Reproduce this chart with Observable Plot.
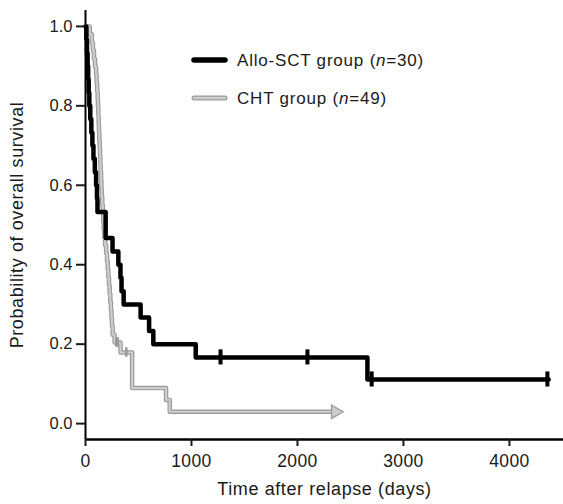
<!DOCTYPE html>
<html><head><meta charset="utf-8">
<script src="https://cdn.jsdelivr.net/npm/d3@7"></script>
<script src="https://cdn.jsdelivr.net/npm/@observablehq/plot@0.6"></script>
<style>body{margin:0;background:#fff} svg{display:block}</style>
</head><body><div id="chart"></div>
<script>
// Allo-SCT group (n=30): step start times (days) and survival levels
const alloTime = [0, 8, 14, 20, 25, 30, 36, 45, 55, 65, 75, 88, 100, 108, 113, 190, 255, 310, 330, 340, 360, 520, 600, 640, 1040, 2660, 4370];
const alloSurv = [1.0, 0.967, 0.933, 0.9, 0.867, 0.833, 0.8, 0.767, 0.733, 0.7, 0.667, 0.633, 0.6, 0.567, 0.533, 0.467, 0.433, 0.4, 0.367, 0.333, 0.3, 0.267, 0.233, 0.2, 0.1667, 0.1111, 0.1111];
const alloCensorTime = [1274, 2094, 2700, 4358];
const alloCensorSurv = [0.1667, 0.1667, 0.1111, 0.1111];

// CHT group (n=49)
const chtTime = [0, 40, 60, 70, 80, 90, 100, 105, 110, 115, 118, 121, 124, 127, 130, 134, 137, 140, 143, 147, 150, 154, 158, 163, 168, 172, 178, 185, 195, 203, 210, 216, 222, 228, 234, 240, 245, 250, 256, 275, 330, 440, 760, 795, 2358];
const chtSurv = [1.0, 0.980, 0.959, 0.939, 0.918, 0.898, 0.878, 0.857, 0.837, 0.816, 0.796, 0.776, 0.755, 0.735, 0.714, 0.694, 0.673, 0.653, 0.633, 0.612, 0.592, 0.571, 0.551, 0.531, 0.510, 0.490, 0.469, 0.449, 0.429, 0.408, 0.388, 0.367, 0.347, 0.327, 0.306, 0.286, 0.265, 0.245, 0.224, 0.204, 0.179, 0.0895, 0.0597, 0.0298, 0.0298];
const chtCensorTime = [290, 305, 385];
const chtCensorSurv = [0.204, 0.204, 0.179];
const chtEndTime = [2358];
const chtEndSurv = [0.0298];

const seriesNames = ["Allo-SCT group", "CHT group"];
const seriesN = [30, 49];
const xTicks = [0, 1000, 2000, 3000, 4000];
const yTicks = [0, 0.2, 0.4, 0.6, 0.8, 1.0];

const allo = alloTime.map((t, i) => ({t, s: alloSurv[i]}));
const alloC = alloCensorTime.map((t, i) => ({t, s: alloCensorSurv[i]}));
const cht = chtTime.map((t, i) => ({t, s: chtSurv[i]}));
const chtC = chtCensorTime.map((t, i) => ({t, s: chtCensorSurv[i]}));
const chtE = chtEndTime.map((t, i) => ({t, s: chtEndSurv[i]}));

const font = "'Liberation Sans', Arial, Helvetica, sans-serif";
const ink = "#1a1a1a";
const grayDark = "#9a9a9a", grayLight = "#cdcdcd";

const chart = Plot.plot({
  width: 563, height: 504,
  marginLeft: 85, marginRight: 0, marginTop: 10, marginBottom: 65,
  style: {fontFamily: font, fontSize: "17px", color: ink, background: "#fff"},
  x: {domain: [0, 4510]},
  y: {domain: [-0.04, 1.04]},
  marks: [
    Plot.ruleX([0], {stroke: "#000", strokeWidth: 2}),
    Plot.ruleY([-0.04], {stroke: "#000", strokeWidth: 2.5}),
    Plot.axisY({ticks: yTicks, tickFormat: ".1f", tickSize: 9, tickPadding: 4, label: null, strokeWidth: 2, fontSize: 16.5}),
    Plot.axisX({ticks: xTicks, tickFormat: d => String(d), tickSize: 7, tickPadding: 8, label: null, strokeWidth: 2, fontSize: 17.5, className: "xax"}),
    // CHT line (outlined gray)
    Plot.line(cht, {x: "t", y: "s", curve: "step-after", stroke: grayDark, strokeWidth: 4.5}),
    Plot.line(cht, {x: "t", y: "s", curve: "step-after", stroke: grayLight, strokeWidth: 2.2}),
    Plot.ruleX(chtC, {x: "t", y1: d => d.s - 0.012, y2: d => d.s + 0.012, stroke: grayDark, strokeWidth: 2.5}),
    Plot.dot(chtE, {x: "t", y: "s", symbol: "triangle", rotate: 90, r: 5, fill: grayLight, stroke: grayDark, strokeWidth: 1.3}),
    // Allo-SCT line
    Plot.line(allo, {x: "t", y: "s", curve: "step-after", stroke: "#000", strokeWidth: 4.5}),
    Plot.ruleX(alloC, {x: "t", y1: d => d.s - 0.019, y2: d => d.s + 0.019, stroke: "#000", strokeWidth: 4}),
    // axis titles
    Plot.text(["Time after relapse (days)"], {frameAnchor: "bottom", dy: 55, fontSize: 18, fill: ink, textAnchor: "middle", className: "ttl"}),
    Plot.text(["Probability of overall survival"], {frameAnchor: "left", dx: -68, rotate: -90, fontSize: 18, fill: ink, textAnchor: "middle", lineAnchor: "middle", className: "ttl"})
  ]
});

const svg = d3.select(chart);
svg.selectAll(".ttl text").attr("letter-spacing", "0.6px");
svg.selectAll(".xax text").attr("letter-spacing", "0.4px");

// legend inside the plot area
const lg = svg.append("g").attr("font-family", font).attr("font-size", 17)
  .attr("fill", ink).attr("text-anchor", "start").attr("letter-spacing", "0.8px");
const legendStyles = [
  [{stroke: "#000", w: 5.5}],
  [{stroke: grayDark, w: 5}, {stroke: grayLight, w: 2.6}]
];
seriesNames.forEach((name, i) => {
  const y = 60 + i * 38;
  legendStyles[i].forEach(st => {
    lg.append("line").attr("x1", 194).attr("x2", 225).attr("y1", y).attr("y2", y)
      .attr("stroke", st.stroke).attr("stroke-width", st.w).attr("stroke-linecap", "round");
  });
  const t = lg.append("text").attr("x", 237).attr("y", y).attr("dy", "0.36em");
  t.append("tspan").text(name + " (");
  t.append("tspan").attr("font-style", "italic").text("n");
  t.append("tspan").text("=" + seriesN[i] + ")");
});

document.getElementById("chart").appendChild(chart);
</script>
</body></html>
